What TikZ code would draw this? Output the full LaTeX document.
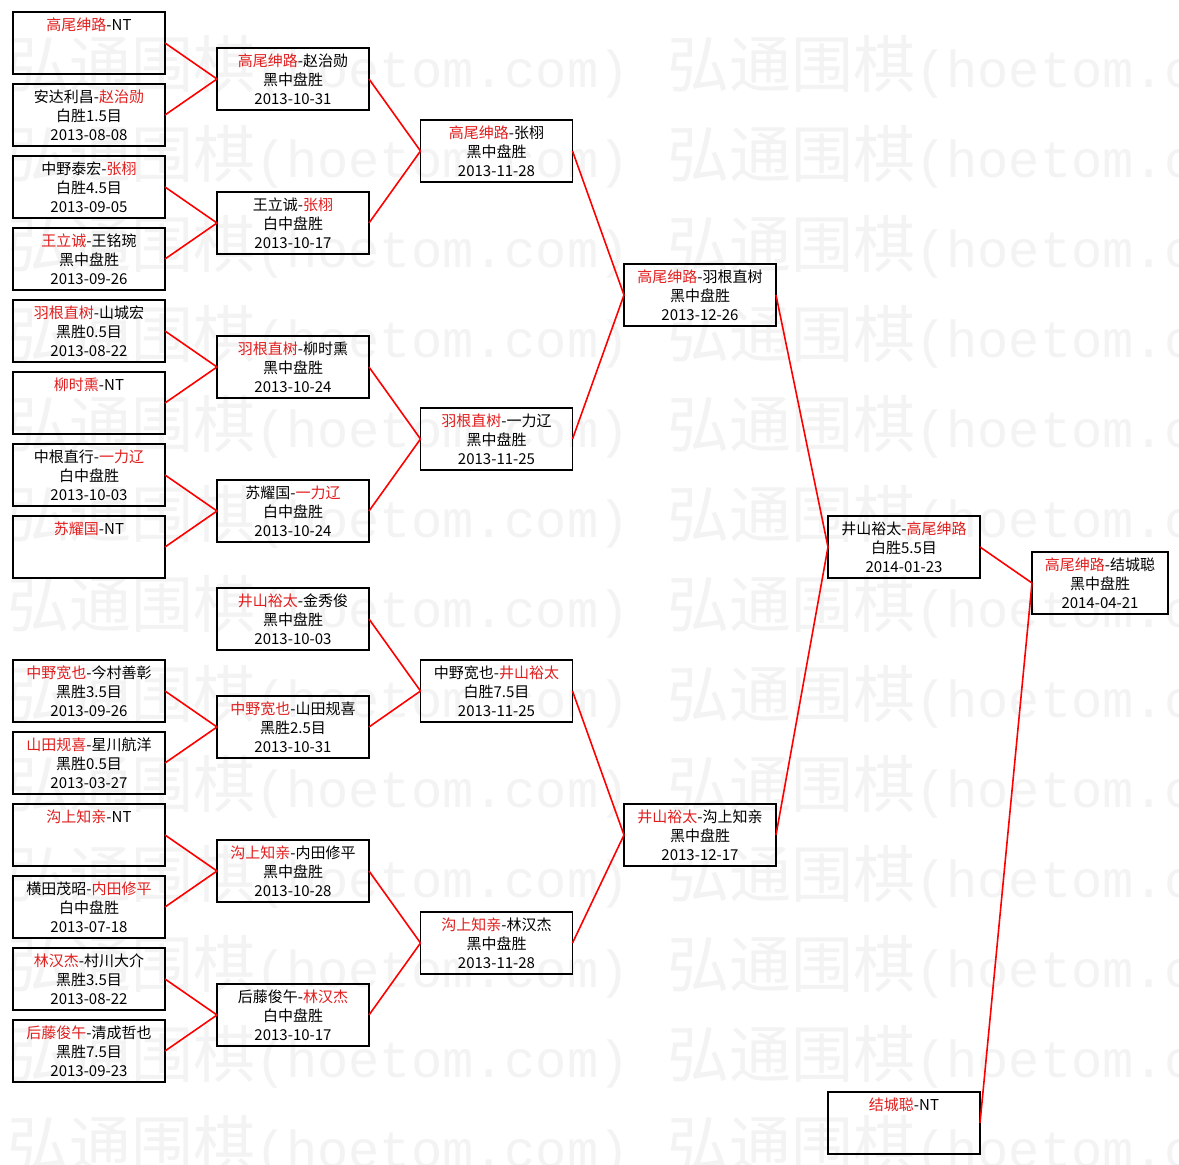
\documentclass[tikz,border=0pt]{standalone}
\usepackage{fontspec}
\newfontfamily\cjk{Noto Sans CJK SC}
\newfontfamily\wmmono{Liberation Mono}
\definecolor{namered}{RGB}{225,30,30}
\definecolor{wmgray}{RGB}{243,243,243}
\newcommand\win[1]{\textcolor{namered}{#1}}
\newcommand\topst{\rule{0pt}{19pt}\strut}
\newcommand\wmtext{{\cjk\fontsize{62}{62}\selectfont 弘通围棋}{\wmmono\fontsize{52}{52}\selectfont (hoetom.com)}}
\newcommand\three[3]{\topst #1\\\strut #2\\\strut #3}
\newcommand\one[1]{\topst #1\\\strut\\\strut}
\begin{document}
\begin{tikzpicture}[x=1pt,y=-1pt,
  bx/.style={draw=black, line width=1.8pt, minimum width=152pt, minimum height=62pt,
    inner sep=0pt, outer sep=0pt, align=center, font=\cjk\fontsize{15}{19}\selectfont},
  bxwide/.style={bx, minimum width=136pt},
  conn/.style={draw=red, line width=1.6pt},
  wm/.style={text=wmgray, inner sep=0pt, anchor=west}]
\useasboundingbox[fill=white] (0,0) rectangle (1179,1165);
% watermark
\foreach \k in {0,...,12} {
  \node[wm] (wl\k) at (7,67+90*\k) {\wmtext};
  \node[wm] (wr\k) at (667,67+90*\k) {\wmtext};
}
% column 1
\node[bx] (a1)  at (89,43)   {\one{\win{高尾绅路}-NT}};
\node[bx] (a2)  at (89,115)  {\three{安达利昌-\win{赵治勋}}{白胜1.5目}{2013-08-08}};
\node[bx] (a3)  at (89,187)  {\three{中野泰宏-\win{张栩}}{白胜4.5目}{2013-09-05}};
\node[bx] (a4)  at (89,259)  {\three{\win{王立诚}-王铭琬}{黑中盘胜}{2013-09-26}};
\node[bx] (a5)  at (89,331)  {\three{\win{羽根直树}-山城宏}{黑胜0.5目}{2013-08-22}};
\node[bx] (a6)  at (89,403)  {\one{\win{柳时熏}-NT}};
\node[bx] (a7)  at (89,475)  {\three{中根直行-\win{一力辽}}{白中盘胜}{2013-10-03}};
\node[bx] (a8)  at (89,547)  {\one{\win{苏耀国}-NT}};
\node[bx] (a9)  at (89,691)  {\three{\win{中野宽也}-今村善彰}{黑胜3.5目}{2013-09-26}};
\node[bx] (a10) at (89,763)  {\three{\win{山田规喜}-星川航洋}{黑胜0.5目}{2013-03-27}};
\node[bx] (a11) at (89,835)  {\one{\win{沟上知亲}-NT}};
\node[bx] (a12) at (89,907)  {\three{横田茂昭-\win{内田修平}}{白中盘胜}{2013-07-18}};
\node[bx] (a13) at (89,979)  {\three{\win{林汉杰}-村川大介}{黑胜3.5目}{2013-08-22}};
\node[bx] (a14) at (89,1051) {\three{\win{后藤俊午}-清成哲也}{黑胜7.5目}{2013-09-23}};
% column 2
\node[bx] (b1) at (293,79)   {\three{\win{高尾绅路}-赵治勋}{黑中盘胜}{2013-10-31}};
\node[bx] (b2) at (293,223)  {\three{王立诚-\win{张栩}}{白中盘胜}{2013-10-17}};
\node[bx] (b3) at (293,367)  {\three{\win{羽根直树}-柳时熏}{黑中盘胜}{2013-10-24}};
\node[bx] (b4) at (293,511)  {\three{苏耀国-\win{一力辽}}{白中盘胜}{2013-10-24}};
\node[bx] (b5) at (293,619)  {\three{\win{井山裕太}-金秀俊}{黑中盘胜}{2013-10-03}};
\node[bx] (b6) at (293,727)  {\three{\win{中野宽也}-山田规喜}{黑胜2.5目}{2013-10-31}};
\node[bx] (b7) at (293,871)  {\three{\win{沟上知亲}-内田修平}{黑中盘胜}{2013-10-28}};
\node[bx] (b8) at (293,1015) {\three{后藤俊午-\win{林汉杰}}{白中盘胜}{2013-10-17}};
% column 3
\node[bx] (c1) at (496.5,151) {\three{\win{高尾绅路}-张栩}{黑中盘胜}{2013-11-28}};
\node[bx] (c2) at (496.5,439) {\three{\win{羽根直树}-一力辽}{黑中盘胜}{2013-11-25}};
\node[bx] (c3) at (496.5,691) {\three{中野宽也-\win{井山裕太}}{白胜7.5目}{2013-11-25}};
\node[bx] (c4) at (496.5,943) {\three{\win{沟上知亲}-林汉杰}{黑中盘胜}{2013-11-28}};
% column 4
\node[bx] (d1) at (700,295) {\three{\win{高尾绅路}-羽根直树}{黑中盘胜}{2013-12-26}};
\node[bx] (d2) at (700,835) {\three{\win{井山裕太}-沟上知亲}{黑中盘胜}{2013-12-17}};
% column 5
\node[bx] (e1) at (904,547)  {\three{井山裕太-\win{高尾绅路}}{白胜5.5目}{2014-01-23}};
\node[bx] (e2) at (904,1123) {\one{\win{结城聪}-NT}};
% column 6
\node[bxwide] (f1) at (1100,583) {\three{\win{高尾绅路}-结城聪}{黑中盘胜}{2014-04-21}};
% connectors
\foreach \s/\t in {a1/b1,a2/b1,a3/b2,a4/b2,a5/b3,a6/b3,a7/b4,a8/b4,
                   a9/b6,a10/b6,a11/b7,a12/b7,a13/b8,a14/b8,
                   b1/c1,b2/c1,b3/c2,b4/c2,b5/c3,b6/c3,b7/c4,b8/c4,
                   c1/d1,c2/d1,c3/d2,c4/d2,d1/e1,d2/e1,e1/f1,e2/f1}
  \draw[conn] (\s.east) -- (\t.west);
\end{tikzpicture}
\end{document}
